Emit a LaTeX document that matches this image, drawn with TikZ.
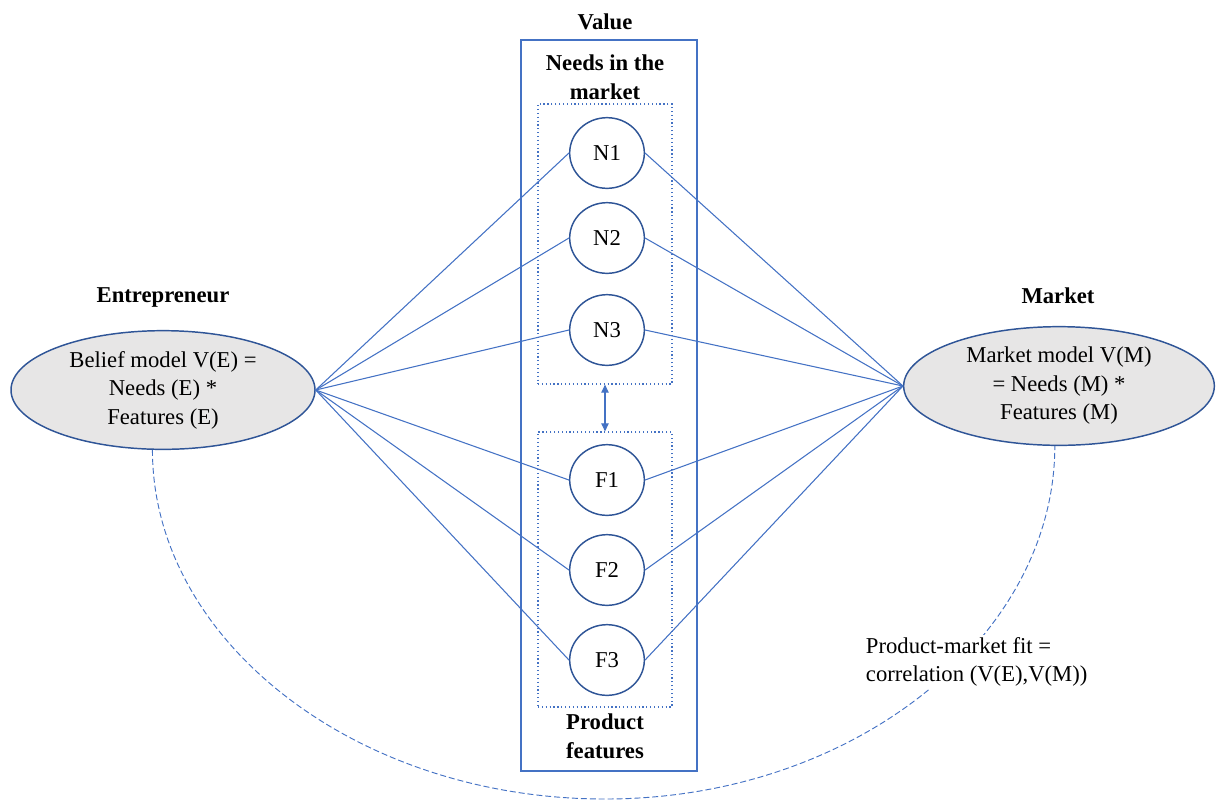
\documentclass[tikz,border=0pt]{standalone}
\usepackage{fontspec}
\setmainfont{Liberation Serif}
\usetikzlibrary{arrows.meta,shapes.geometric,calc}
\definecolor{lineblue}{HTML}{4472C4}
\definecolor{darkblue}{HTML}{2F5597}
\definecolor{fillgray}{HTML}{E7E6E6}

\begin{document}
\begin{tikzpicture}[x=0.75pt,y=-0.75pt,
  txt/.style={font=\fontsize{17}{21.4}\selectfont, align=center},
  heading/.style={font=\fontsize{17}{21.4}\selectfont\bfseries, align=center},
  bubble/.style={ellipse, draw=darkblue, line width=1.1pt, fill=white, minimum width=56pt, minimum height=53pt, inner sep=0pt, txt},
  model/.style={ellipse, draw=darkblue, line width=1.1pt, fill=fillgray, minimum width=228pt, minimum height=89pt, inner sep=0pt, txt},
  group/.style={draw=lineblue, dotted, line width=0.9pt, minimum width=100.5pt},
  link/.style={lineblue, line width=0.8pt},
  fitcurve/.style={lineblue, line width=0.7pt, dash pattern=on 4.5pt off 2.2pt}]
  \useasboundingbox (0,0) rectangle (1216,801);

  % Define column position
  \def\colx{607}

  % Value column frame
  \draw[lineblue, line width=1.1pt] (521,40) rectangle (697,771);
  \node[heading] (value) at (605,22) {Value};
  \node[heading] (needstitle) at (605,77) {Needs in the\\market};
  \node[heading] (feattitle) at (605,736) {Product\\features};

  % Dotted groups
  \node[group, minimum height=210pt] (needsgrp) at (605,244) {};
  \node[group, minimum height=206.25pt] (featgrp) at (605,569.5) {};
  \draw[lineblue, line width=0.8pt, {Triangle[length=6pt,width=5.5pt]}-{Triangle[length=6pt,width=5.5pt]}] (needsgrp.south) -- (featgrp.north);

  % Needs and features
  \foreach \name/\y in {N1/153, N2/238, N3/330, F1/480, F2/570, F3/660} {
    \node[bubble] (\name) at (\colx,\y) {\name};
  }

  % Entrepreneur and market models
  \node[heading] (enttitle) at (163,297) {Entrepreneur};
  \node[model] (ent) at (163,390) {Belief model V(E) =\\Needs (E) *\\Features (E)};
  \node[heading] (mkttitle) at (1058,296) {Market};
  \node[model, minimum width=233pt] (mkt) at (1059,386) {Market model V(M)\\= Needs (M) *\\Features (M)};

  % Links through the value column
  \foreach \name in {N1,N2,N3,F1,F2,F3} {
    \draw[link] (ent.east) -- (\name.west);
    \draw[link] (\name.east) -- (mkt.west);
  }

  % Fit between the two models
  \coordinate (bot) at (605,799);
  \draw[fitcurve] (ent.-100) .. controls +(0,190) and +(-250,0) .. (bot) .. controls +(250,0) and +(0,190) .. (mkt.-94);
  \node[txt, align=left, anchor=west, fill=white, inner sep=2pt] (fit) at (863,662) {Product-market fit =\\correlation (V(E),V(M))};

\end{tikzpicture}
\end{document}
